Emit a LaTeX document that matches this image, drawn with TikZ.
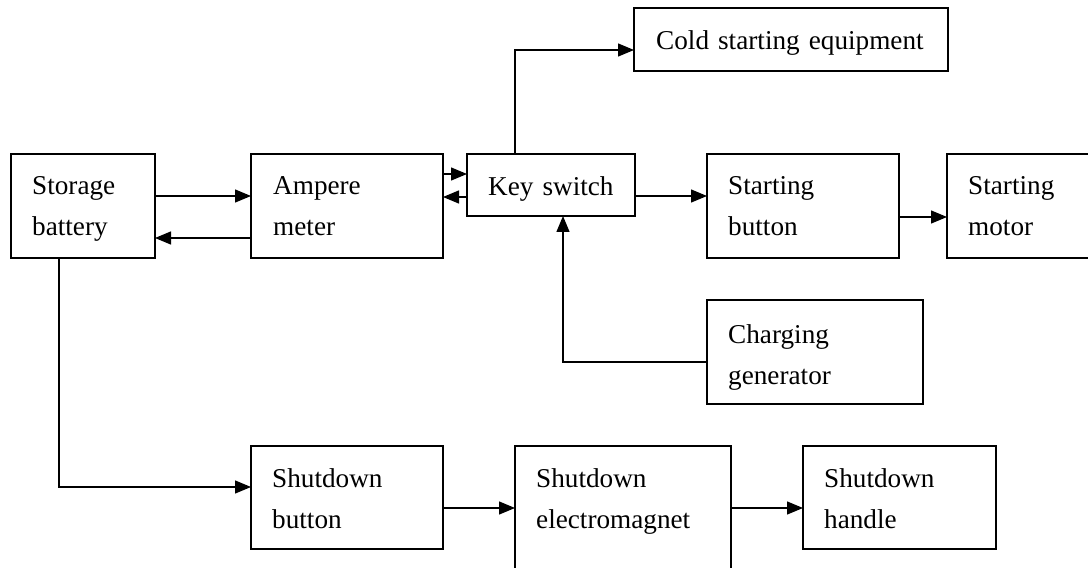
\documentclass[tikz,border=0pt]{standalone}
\usepackage{fontspec}
\setmainfont{Liberation Serif}
\usetikzlibrary{arrows.meta,calc}

\tikzset{
  box/.style={draw, line width=1.3bp, inner sep=0pt, outer sep=0pt},
  lbl/.style={anchor=base west, inner sep=0pt, align=left, text width=400bp,
              font=\fontsize{27.2bp}{41bp}\selectfont},
  arr/.style={line width=1.3bp, -{Triangle[length=16bp,width=13bp]}},
}

\begin{document}
\begin{tikzpicture}[x=1bp, y=-1bp]
  \useasboundingbox (0,0) rectangle (1088,568);

  % blocks
  \node[box, minimum width=144bp, minimum height=104bp] (bat)  at (83,206)    {};
  \node[box, minimum width=192bp, minimum height=104bp] (amp)  at (347,206)   {};
  \node[box, minimum width=168bp, minimum height=62bp]  (key)  at (551,185)   {};
  \node[box, minimum width=314bp, minimum height=63bp]  (cold) at (791,39.5)  {};
  \node[box, minimum width=192bp, minimum height=104bp] (sbtn) at (803,206)   {};
  \node[box, minimum width=150bp, minimum height=104bp] (smot) at (1022,206)  {};
  \node[box, minimum width=216bp, minimum height=104bp] (chg)  at (815,352)   {};
  \node[box, minimum width=192bp, minimum height=103bp] (sdb)  at (347,497.5) {};
  \node[box, minimum width=216bp, minimum height=164bp] (sdem) at (623,528)   {};
  \node[box, minimum width=193bp, minimum height=103bp] (sdh)  at (899.5,497.5) {};

  % labels
  \node[lbl] (bat-t)  at ([shift={(21,41)}]bat.north west)  {Storage\\battery};
  \node[lbl] (amp-t)  at ([shift={(22,41)}]amp.north west)  {Ampere\\meter};
  \node[lbl] (key-t)  at ([shift={(21,42)}]key.north west)  {Key switch};
  \node[lbl] (cold-t) at ([shift={(22,42)}]cold.north west) {Cold starting equipment};
  \node[lbl] (sbtn-t) at ([shift={(21,41)}]sbtn.north west) {Starting\\button};
  \node[lbl] (smot-t) at ([shift={(21,41)}]smot.north west) {Starting\\motor};
  \node[lbl] (chg-t)  at ([shift={(21,43)}]chg.north west)  {Charging\\generator};
  \node[lbl] (sdb-t)  at ([shift={(21,41)}]sdb.north west)  {Shutdown\\button};
  \node[lbl] (sdem-t) at ([shift={(21,41)}]sdem.north west) {Shutdown\\electromagnet};
  \node[lbl] (sdh-t)  at ([shift={(21,41)}]sdh.north west)  {Shutdown\\handle};

  % connectors
  \draw[arr] (bat.east |- 0,196) -- (amp.west |- 0,196);
  \draw[arr] (amp.west |- 0,238) -- (bat.east |- 0,238);
  \draw[arr] (amp.east |- 0,174) -- (key.west |- 0,174);
  \draw[arr] (key.west |- 0,197) -- (amp.east |- 0,197);
  \draw[arr] (key.north -| 515,0) |- (cold.west |- 0,50);
  \draw[arr] (key.east |- 0,196) -- (sbtn.west |- 0,196);
  \draw[arr] (sbtn.east |- 0,217) -- (smot.west |- 0,217);
  \draw[arr] (chg.west |- 0,362) -| (key.south -| 563,0);
  \draw[arr] (bat.south -| 59,0) |- (sdb.west |- 0,487);
  \draw[arr] (sdb.east |- 0,508) -- (sdem.west |- 0,508);
  \draw[arr] (sdem.east |- 0,508) -- (sdh.west |- 0,508);
\end{tikzpicture}
\end{document}
